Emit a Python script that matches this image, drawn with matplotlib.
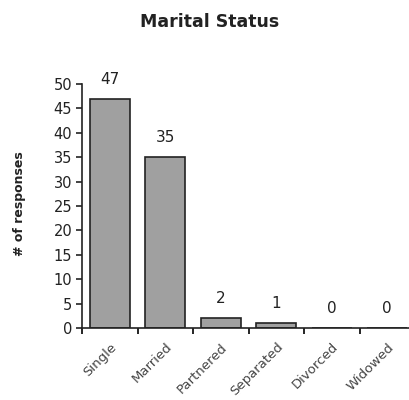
import matplotlib
matplotlib.use("Agg")
import matplotlib.pyplot as plt
import numpy as np

categories = ["Single", "Married", "Partnered", "Separated", "Divorced", "Widowed"]
responses = [47, 35, 2, 1, 0, 0]
y_ticks = [0, 5, 10, 15, 20, 25, 30, 35, 40, 45, 50]

plt.rcParams["font.family"] = ["DejaVu Sans"]

fig = plt.figure(figsize=(4.09, 4.0), dpi=100)
ax = fig.add_axes([82 / 409, 72 / 400, 333 / 409, 244 / 400])

x = np.arange(len(categories))
ax.bar(x, responses, width=0.72, color="#a0a0a0", edgecolor="#222222", linewidth=1.2)

for xi, v in zip(x, responses):
    ax.annotate(str(v), (xi, v), xytext=(0, 14), textcoords="offset points",
                ha="center", va="center", fontsize=11, color="#222222")

ax.set_xlim(-0.5, len(categories) - 0.5)
ax.set_ylim(0, 50)
ax.set_yticks(y_ticks)
ax.tick_params(axis="y", labelsize=10.5, length=4, width=1.2, colors="#222222", pad=3)

# category boundaries carry the tick marks, names sit at bar centers
ax.set_xticks(np.arange(-0.5, len(categories)), minor=False)
ax.set_xticklabels([])
ax.set_xticks(x, minor=True)
ax.set_xticklabels(categories, minor=True, rotation=45, ha="right",
                   rotation_mode="anchor", fontsize=9.5, color="#444444")
ax.tick_params(axis="x", which="major", length=4, width=1.2, direction="out")
ax.tick_params(axis="x", which="minor", length=0, pad=9)

for s in ["top", "right"]:
    ax.spines[s].set_visible(False)
for s in ["left", "bottom"]:
    ax.spines[s].set_linewidth(1.2)
    ax.spines[s].set_color("#222222")

fig.text(20 / 409, 1 - 204 / 400, "# of responses", rotation=90, ha="center", va="center",
         fontsize=9, fontweight="bold", color="#222222")
fig.text(210 / 409, 1 - 22 / 400, "Marital Status", ha="center", va="center",
         fontsize=12.5, fontweight="bold", color="#222222")

fig.savefig("out.png", dpi=100)
